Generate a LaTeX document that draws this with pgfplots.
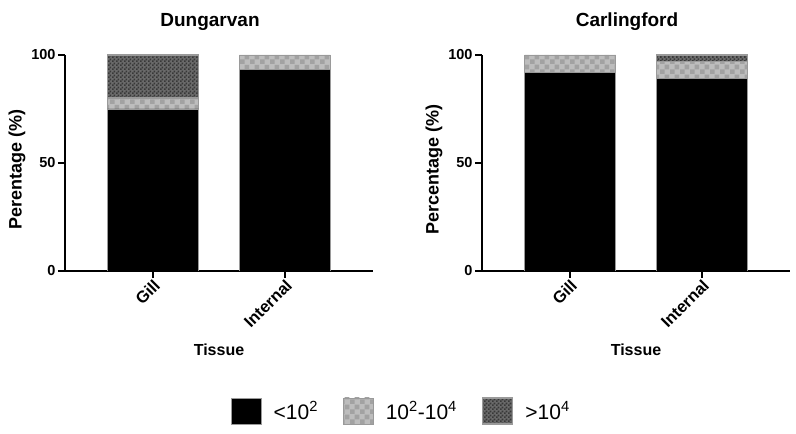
\documentclass[border=0pt]{standalone}
\usepackage{fontspec}
\setmainfont{Liberation Sans}
\usepackage{pgfplots}
\pgfplotsset{compat=1.18}
\usetikzlibrary{patterns.meta}
\definecolor{lgbase}{HTML}{BDBDBD}
\definecolor{lgchk}{HTML}{A2A2A2}
\definecolor{dkbase}{HTML}{6A6A6A}
\definecolor{dkchk}{HTML}{383838}
\definecolor{edge}{HTML}{9A9A9A}
\tikzdeclarepattern{
  name=bigcheck, type=uncolored,
  bounding box={(0,0) and (10pt,10pt)},
  tile size={(10pt,10pt)},
  code={\fill (0,0) rectangle (5pt,5pt); \fill (5pt,5pt) rectangle (10pt,10pt);}
}
\tikzdeclarepattern{
  name=smallcheck, type=uncolored,
  bounding box={(0,0) and (4pt,4pt)},
  tile size={(4pt,4pt)},
  code={\fill (0,0) rectangle (2pt,2pt); \fill (2pt,2pt) rectangle (4pt,4pt);}
}
\pgfplotsset{
  panel/.style={
    scale only axis, width=308pt, height=216pt,
    anchor=south west,
    xmin=-0.667, xmax=1.667, ymin=0, ymax=100,
    axis lines=left, axis line style={-, line width=2.2pt},
    ybar stacked, bar width=91pt,
    xtick={0,1}, xticklabels={Gill,Internal},
    ytick={0,50,100},
    tick align=outside, major tick length=7pt,
    tick style={line width=2pt, black},
    /pgf/number format/assume math mode=true,
    yticklabel style={font=\fontsize{14.5}{16}\selectfont\bfseries, xshift=1pt},
    xticklabel style={font=\fontsize{16.5}{19}\selectfont\bfseries, rotate=45, anchor=east, xshift=3pt, yshift=-6pt},
    xlabel={Tissue},
    xlabel style={font=\fontsize{16}{18}\selectfont\bfseries, at={(axis description cs:0.5,0)}, anchor=center, yshift=-79pt},
    ylabel style={font=\fontsize{18}{20}\selectfont\bfseries, at={(axis description cs:0,0.47)}, anchor=center, yshift=48pt},
    title style={font=\fontsize{19}{22}\selectfont\bfseries, at={(axis description cs:0.5,1)}, anchor=center, yshift=27pt, xshift=-9pt},
    legend image code/.code={\draw[#1] (0pt,-13pt) rectangle (30pt,13pt);},
  },
  s1/.style={fill=black, draw=edge, line width=0.8pt},
  s2/.style={fill=lgbase, draw=edge, line width=0.8pt, postaction={pattern={bigcheck}, pattern color=lgchk}},
  s3/.style={fill=dkbase, draw=edge, line width=1.6pt, postaction={pattern={smallcheck}, pattern color=dkchk}},
}
\begin{document}
\begin{tikzpicture}[x=1pt,y=1pt]
\useasboundingbox (0,0) rectangle (796,434);
\begin{axis}[panel, at={(65pt,163pt)}, title={Dungarvan}, ylabel={Perentage (\%)},
  legend columns=3,
  legend style={at={(1.092,-0.648)}, anchor=center, draw=none, fill=none,
    font=\fontsize{21}{23}\selectfont,
    /tikz/every even column/.append style={column sep=23pt}},
  legend cell align=left]
\addplot[s1] coordinates {(0,75) (1,93.5)};
\addplot[s2] coordinates {(0,5) (1,6.5)};
\addplot[s3] coordinates {(0,20)};
\legend{\hspace{10pt}<10\textsuperscript{2},\hspace{10pt}10\textsuperscript{2}-10\textsuperscript{4},\hspace{10pt}>10\textsuperscript{4}}
\end{axis}
\begin{axis}[panel, at={(482pt,163pt)}, title={Carlingford}, ylabel={Percentage (\%)}]
\addplot[s1] coordinates {(0,92) (1,89)};
\addplot[s2] coordinates {(0,8) (1,8)};
\addplot[s3] coordinates {(0,0) (1,3)};
\end{axis}
\end{tikzpicture}
\end{document}
